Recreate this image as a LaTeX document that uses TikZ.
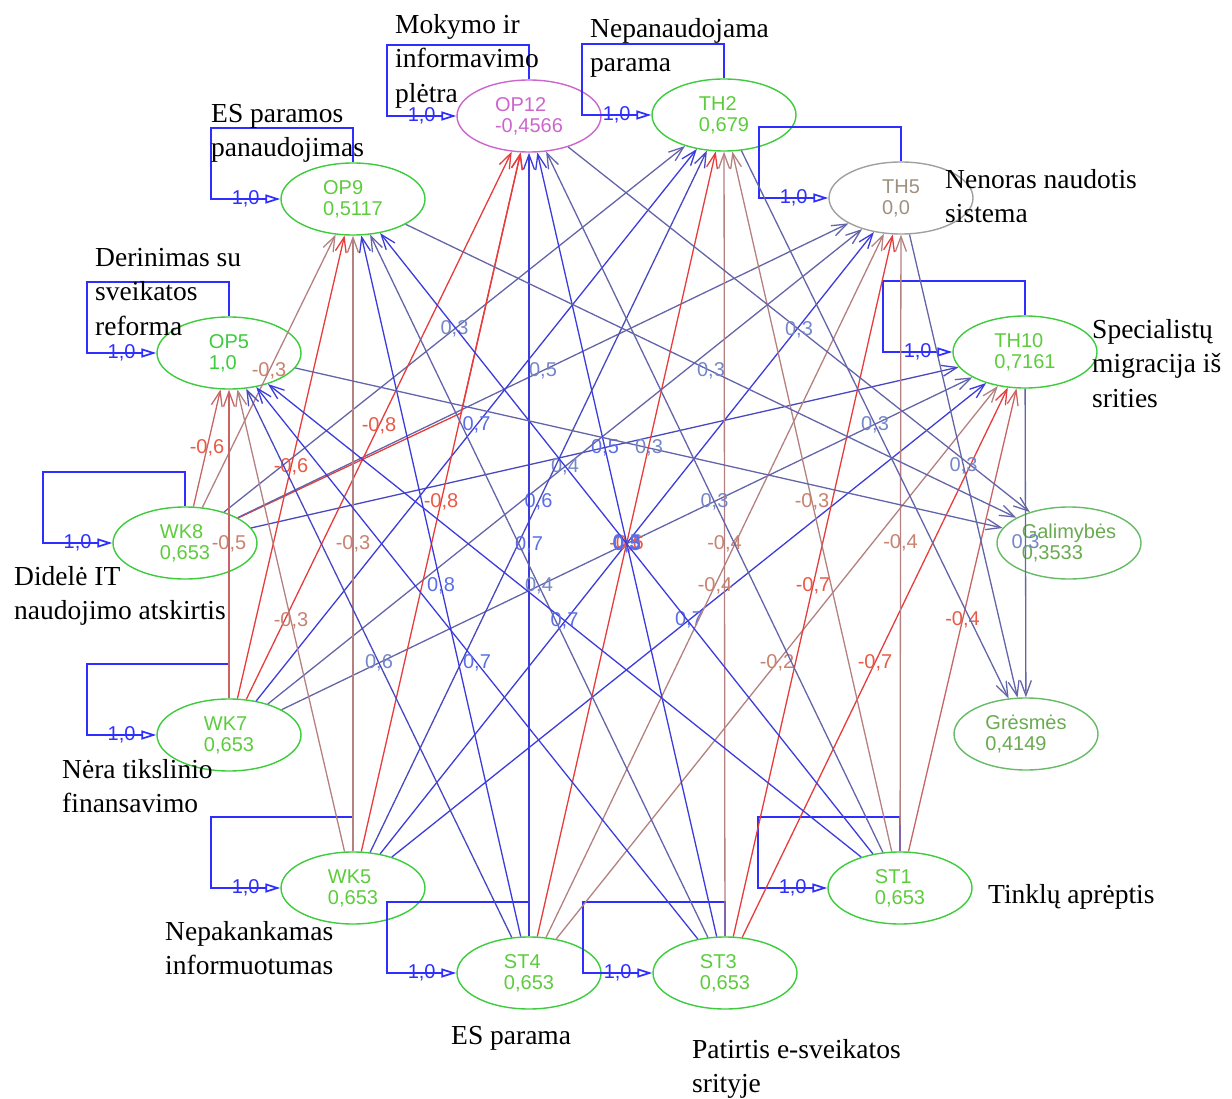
\documentclass[tikz,border=0pt]{standalone}
\usepackage{fontspec}
\setmainfont{Liberation Serif}
\newfontfamily\sansf{Liberation Sans}
\usetikzlibrary{arrows.meta,shapes.geometric,calc}
\definecolor{cPS}{HTML}{3C3CDC}
\definecolor{cPM}{HTML}{4848C0}
\definecolor{cPW}{HTML}{6464A8}
\definecolor{cNS}{HTML}{E63C3C}
\definecolor{cNM}{HTML}{C86464}
\definecolor{cNW}{HTML}{B48080}
\definecolor{lPS}{HTML}{5A6EE6}
\definecolor{lPW}{HTML}{7486C8}
\definecolor{lNS}{HTML}{E85A46}
\definecolor{lNW}{HTML}{C8826E}
\definecolor{loopc}{HTML}{2E2EFF}
\definecolor{gEll}{HTML}{3CCC3C}
\definecolor{gTxt}{HTML}{5CCC3C}
\definecolor{gEll2}{HTML}{66BB66}
\definecolor{gTxt2}{HTML}{6AAA50}
\definecolor{pEll}{HTML}{CC66CC}
\definecolor{grEll}{HTML}{A0A0A0}
\definecolor{grTxt}{HTML}{A09080}
\tikzset{
  concept/.style={ellipse, draw=gEll, text=gTxt, line width=1.4pt, minimum width=144pt,
    minimum height=72pt, inner sep=0pt, align=left, font=\sansf\fontsize{20}{21}\selectfont},
  desc/.style={font=\fontsize{27.5}{34.5}\selectfont, align=left, inner sep=0pt, anchor=north west, text=black},
  edgeb/.style={line width=1.3pt, -{Straight Barb[length=15pt,width=11pt]}},
  ps/.style={edgeb, draw=cPS}, pm/.style={edgeb, draw=cPM}, pw/.style={edgeb, draw=cPW},
  ns/.style={edgeb, draw=cNS}, nm/.style={edgeb, draw=cNM}, nw/.style={edgeb, draw=cNW},
  lab/.style={font=\sansf\fontsize{20}{20}\selectfont, inner sep=0pt},
  loopline/.style={draw=loopc, line width=1.7pt, -{Triangle[open,length=15pt,width=9pt]}},
  looplab/.style={font=\sansf\fontsize{20}{20}\selectfont, inner sep=0pt, text=loopc},
}
\newcommand\cmedge[5]{\draw[#3] (#1) -- node[lab, text=#4]{#5} (#2);}
\newcommand\cmloop[1]{\draw[loopline] (#1.north) -- ($(#1.center)+(0,-71)$) -- ($(#1.center)+(-142,-71)$) -- ($(#1.center)+(-142,0)$) -- node[pos=0.5, looplab]{1,0} (#1.west);}
\begin{document}
\begin{tikzpicture}[x=1pt,y=-1pt]
\useasboundingbox (0,0) rectangle (1232,1099);
% concept nodes
\node[concept, draw=pEll, text=pEll] (OP12) at (529,116) {OP12\\-0,4566};
\node[concept] (TH2) at (724,115) {TH2\\0,679};
\node[concept] (OP9) at (353,199) {OP9\\0,5117};
\node[concept, draw=grEll, text=grTxt] (TH5) at (901,198) {TH5\\0,0};
\node[concept, text=gEll] (OP5) at (229,353) {OP5\\1,0};
\node[concept] (TH10) at (1025,352) {TH10\\0,7161};
\node[concept] (WK8) at (185,543) {WK8\\0,653};
\node[concept, draw=gEll2, text=gTxt2] (GAL) at (1069,543) {Galimybės\\0,3533};
\node[concept] (WK7) at (229,735) {WK7\\0,653};
\node[concept, draw=gEll2, text=gTxt2] (GRE) at (1026,734) {Grėsmės\\0,4149};
\node[concept] (WK5) at (353,888) {WK5\\0,653};
\node[concept] (ST1) at (900,888) {ST1\\0,653};
\node[concept] (ST4) at (529,973) {ST4\\0,653};
\node[concept] (ST3) at (725,973) {ST3\\0,653};
% self loops
\cmloop{OP12}
\cmloop{TH2}
\cmloop{OP9}
\cmloop{TH5}
\cmloop{OP5}
\cmloop{TH10}
\cmloop{WK8}
\cmloop{WK7}
\cmloop{WK5}
\cmloop{ST1}
\cmloop{ST4}
\cmloop{ST3}
% edges from WK8
\cmedge{WK8}{OP5}{nm}{lNS}{-0,6}
\cmedge{WK8}{OP9}{nw}{lNW}{-0,3}
\coordinate (bendA) at (461,413);
\draw[ns] (WK8) -- (bendA) -- (OP12);
\cmedge{WK8}{TH2}{pw}{lPW}{0,3}
\cmedge{WK8}{TH5}{pw}{lPW}{0,5}
\cmedge{WK8}{TH10}{pm}{lPS}{0,5}
% edges from WK7
\cmedge{WK7}{OP5}{nm}{lNW}{-0,5}
\cmedge{WK7}{OP9}{ns}{lNS}{-0,6}
\cmedge{WK7}{OP12}{ns}{lNS}{-0,8}
\cmedge{WK7}{TH2}{ps}{lPS}{0,7}
\cmedge{WK7}{TH5}{pw}{lPW}{0,4}
\cmedge{WK7}{TH10}{pw}{lPW}{0,3}
% edges from WK5
\cmedge{WK5}{OP5}{nw}{lNW}{-0,3}
\cmedge{WK5}{OP9}{nw}{lNW}{-0,3}
\cmedge{WK5}{OP12}{ns}{lNS}{-0,8}
\cmedge{WK5}{TH2}{pm}{lPS}{0,6}
\cmedge{WK5}{TH5}{ps}{lPS}{0,5}
\cmedge{WK5}{TH10}{ps}{lPS}{0,7}
% edges from ST4
\cmedge{ST4}{OP5}{pm}{lPW}{0,6}
\cmedge{ST4}{OP9}{ps}{lPS}{0,8}
\cmedge{ST4}{OP12}{ps}{lPS}{0,7}
\cmedge{ST4}{TH2}{ns}{lNS}{-0,6}
\cmedge{ST4}{TH5}{nw}{lNW}{-0,4}
\cmedge{ST4}{TH10}{nw}{lNW}{-0,2}
% edges from ST3
\cmedge{ST3}{OP5}{ps}{lPS}{0,7}
\cmedge{ST3}{OP9}{pw}{lPW}{0,4}
\cmedge{ST3}{OP12}{ps}{lPS}{0,5}
\cmedge{ST3}{TH2}{nw}{lNW}{-0,4}
\cmedge{ST3}{TH5}{ns}{lNS}{-0,7}
\cmedge{ST3}{TH10}{ns}{lNS}{-0,7}
% edges from ST1
\cmedge{ST1}{OP5}{ps}{lPS}{0,7}
\cmedge{ST1}{OP9}{ps}{lPS}{0,3}
\cmedge{ST1}{OP12}{pw}{lPW}{0,3}
\cmedge{ST1}{TH2}{nw}{lNW}{-0,3}
\cmedge{ST1}{TH5}{nw}{lNW}{-0,4}
\cmedge{ST1}{TH10}{nm}{lNS}{-0,4}
% to outputs
\cmedge{OP5}{GAL}{pw}{lPW}{0,3}
\cmedge{OP9}{GAL}{pw}{lPW}{0,3}
\cmedge{OP12}{GAL}{pw}{lPW}{0,3}
\cmedge{TH2}{GRE}{pw}{lPW}{0,3}
\cmedge{TH5}{GRE}{pw}{lPW}{0,3}
\cmedge{TH10}{GRE}{pw}{lPW}{0,3}
% descriptions
\node[desc] (dOP12) at (395,14) {Mokymo ir\\informavimo\\plėtra};
\node[desc] (dTH2) at (590,18) {Nepanaudojama\\parama};
\node[desc] (dOP9) at (211,104) {ES paramos\\panaudojimas};
\node[desc] (dTH5) at (945,169) {Nenoras naudotis\\sistema};
\node[desc] (dOP5) at (95,248) {Derinimas su\\sveikatos\\reforma};
\node[desc] (dTH10) at (1092,319) {Specialistų\\migracija iš\\srities};
\node[desc] (dWK8) at (14,566) {Didelė IT\\naudojimo atskirtis};
\node[desc] (dWK7) at (62,759) {Nėra tikslinio\\finansavimo};
\node[desc] (dWK5) at (165,921) {Nepakankamas\\informuotumas};
\node[desc] (dST1) at (988,884) {Tinklų aprėptis};
\node[desc] (dST4) at (451,1026) {ES parama};
\node[desc] (dST3) at (692,1039) {Patirtis e-sveikatos\\srityje};
\end{tikzpicture}
\end{document}
